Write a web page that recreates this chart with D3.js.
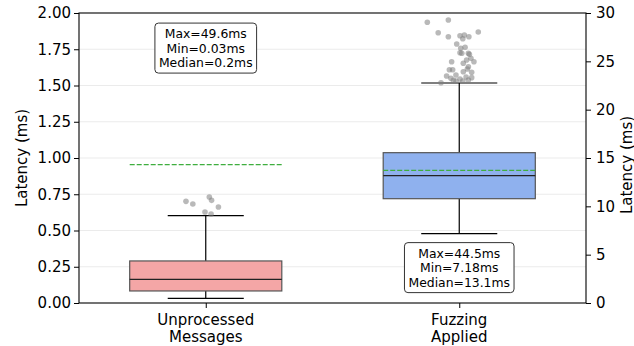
<!DOCTYPE html>
<html>
<head>
<meta charset="utf-8">
<script src="https://cdn.jsdelivr.net/npm/d3@7"></script>
<style>
  html, body { margin: 0; padding: 0; background: #fff; }
  svg { display: block; font-family: "DejaVu Sans", sans-serif; }
</style>
</head>
<body>
<div id="chart"></div>
<script>
// categories, one box per category; box 0 reads the left axis, box 1 the right axis
const categories = [["Unprocessed", "Messages"], ["Fuzzing", "Applied"]]
const whiskLo = [0.032, 7.17]
const q1 = [0.083, 10.79]
const medians = [0.163, 13.17]
const q3 = [0.29, 15.55]
const whiskHi = [0.602, 22.76]
const means = [0.954, 13.72]

// outliers: value and horizontal jitter (in category units)
const leftOutliers = [0.701, 0.683, 0.731, 0.708, 0.662, 0.628, 0.614]
const leftJitter = [-0.078, -0.051, 0.014, 0.023, 0.05, -0.003, 0.021]
const rightOutliers = [29.04, 29.28, 27.96, 27.55, 28.03, 27.65, 27.72, 27.55, 27.34, 26.79,
    26.35, 26.45, 25.89, 25.83, 25.83, 25.73, 25.31, 25.14, 24.96, 24.96,
    24.80, 24.44, 24.21, 24.13, 24.13, 23.93, 23.87, 23.59, 23.48, 23.38,
    23.31, 23.24, 23.17, 22.79, 23.04, 22.97, 22.97, 23.07]
const rightJitter = [-0.126, -0.043, -0.083, -0.043, 0.075, 0.003, 0.020, 0.038, 0.014, -0.010,
    0.006, 0.023, 0.003, 0.036, 0.010, 0.040, 0.046, 0.029, 0.058, -0.030,
    0.016, 0.036, 0.032, -0.039, -0.026, 0.016, 0.049, -0.013, -0.050, 0.027,
    0.049, -0.033, 0.003, -0.072, -0.023, 0.014, -0.013, 0.036]

const annotations = [
    ["Max=49.6ms", "Min=0.03ms", "Median=0.2ms"],
    ["Max=44.5ms", "Min=7.18ms", "Median=13.1ms"]
]
const leftTicks = [0, 0.25, 0.5, 0.75, 1.0, 1.25, 1.5, 1.75, 2.0]
const rightTicks = [0, 5, 10, 15, 20, 25, 30]

const fills = ["#f4a6a6", "#8fb1ee"]

const width = 634, height = 346
const margin = { left: 79, right: 48, top: 13, bottom: 43 }
const x0 = margin.left, x1 = width - margin.right
const y0 = height - margin.bottom, y1 = margin.top

const svg = d3.select("#chart").append("svg")
    .attr("width", width)
    .attr("height", height)

const x = d3.scaleLinear().domain([0.5, 2.5]).range([x0, x1])
const yL = d3.scaleLinear().domain([0, 2]).range([y0, y1])
const yR = d3.scaleLinear().domain([0, 30]).range([y0, y1])
const yOf = i => i === 0 ? yL : yR

// grid
svg.append("g")
    .selectAll("line")
    .data(leftTicks.slice(1, -1))
    .join("line")
    .attr("x1", x0).attr("x2", x1)
    .attr("y1", d => yL(d)).attr("y2", d => yL(d))
    .attr("stroke", "#ebebeb")
    .attr("stroke-width", 1)

const boxW = 0.6, capW = 0.3
const boxes = svg.append("g")
categories.forEach((c, i) => {
    const y = yOf(i)
    const cx = x(i + 1)
    const g = boxes.append("g")
    // whiskers
    g.append("line").attr("x1", cx).attr("x2", cx).attr("y1", y(whiskLo[i])).attr("y2", y(q1[i]))
        .attr("stroke", "#000").attr("stroke-width", 1.2)
    g.append("line").attr("x1", cx).attr("x2", cx).attr("y1", y(q3[i])).attr("y2", y(whiskHi[i]))
        .attr("stroke", "#000").attr("stroke-width", 1.2)
    for (const v of [whiskLo[i], whiskHi[i]]) {
        g.append("line")
            .attr("x1", x(i + 1 - capW / 2)).attr("x2", x(i + 1 + capW / 2))
            .attr("y1", y(v)).attr("y2", y(v))
            .attr("stroke", "#000").attr("stroke-width", 1.2)
    }
    g.append("rect")
        .attr("x", x(i + 1 - boxW / 2))
        .attr("width", x(i + 1 + boxW / 2) - x(i + 1 - boxW / 2))
        .attr("y", y(q3[i]))
        .attr("height", y(q1[i]) - y(q3[i]))
        .attr("fill", fills[i])
        .attr("stroke", "#555")
        .attr("stroke-width", 1.2)
    g.append("line")
        .attr("x1", x(i + 1 - boxW / 2)).attr("x2", x(i + 1 + boxW / 2))
        .attr("y1", y(medians[i])).attr("y2", y(medians[i]))
        .attr("stroke", "#222").attr("stroke-width", 1.3)
    g.append("line")
        .attr("x1", x(i + 1 - boxW / 2)).attr("x2", x(i + 1 + boxW / 2))
        .attr("y1", y(means[i])).attr("y2", y(means[i]))
        .attr("stroke", "#3fae3f").attr("stroke-width", 1.2)
        .attr("stroke-dasharray", "5,2")
})

// outliers
const pts = leftOutliers.map((v, k) => ({ i: 0, v, j: leftJitter[k] }))
    .concat(rightOutliers.map((v, k) => ({ i: 1, v, j: rightJitter[k] })))
svg.append("g")
    .selectAll("circle")
    .data(pts)
    .join("circle")
    .attr("cx", d => x(d.i + 1 + d.j))
    .attr("cy", d => yOf(d.i)(d.v))
    .attr("r", 2.8)
    .attr("fill", "#7f7f7f")
    .attr("fill-opacity", 0.55)

// frame
svg.append("rect")
    .attr("x", x0).attr("y", y1)
    .attr("width", x1 - x0).attr("height", y0 - y1)
    .attr("fill", "none").attr("stroke", "#000").attr("stroke-width", 1.1)

// axes
const fs = 15
const axL = svg.append("g").attr("transform", `translate(${x0},0)`)
    .call(d3.axisLeft(yL).tickValues(leftTicks).tickFormat(d3.format(".2f")).tickSize(5).tickPadding(3))
const axR = svg.append("g").attr("transform", `translate(${x1},0)`)
    .call(d3.axisRight(yR).tickValues(rightTicks).tickFormat(d3.format("d")).tickSize(5).tickPadding(5))
const axB = svg.append("g").attr("transform", `translate(0,${y0})`)
    .call(d3.axisBottom(x).tickValues([1, 2]).tickFormat("").tickSize(5))
for (const ax of [axL, axR, axB]) {
    ax.select(".domain").remove()
    ax.selectAll(".tick line").attr("stroke", "#000").attr("stroke-width", 1)
    ax.selectAll("text").attr("font-size", fs).attr("fill", "#000").attr("font-family", "DejaVu Sans")
}

// category labels, two lines each
svg.append("g")
    .selectAll("text")
    .data(categories)
    .join("text")
    .attr("x", (d, i) => x(i + 1))
    .attr("y", 324.5)
    .attr("text-anchor", "middle")
    .attr("font-size", fs)
    .each(function (d) {
        d3.select(this).selectAll("tspan")
            .data(d)
            .join("tspan")
            .attr("x", d3.select(this).attr("x"))
            .attr("dy", (t, k) => k === 0 ? 0 : 17.3)
            .text(t => t)
    })

// axis titles
svg.append("text")
    .attr("transform", `translate(27,${(y0 + y1) / 2}) rotate(-90)`)
    .attr("text-anchor", "middle")
    .attr("font-size", fs)
    .text("Latency (ms)")
svg.append("text")
    .attr("transform", `translate(631.5,${(y0 + y1) / 2 + 7}) rotate(-90)`)
    .attr("text-anchor", "middle")
    .attr("font-size", fs)
    .text("Latency (ms)")

// stats boxes (axes-fraction centres)
const annY = [0.879, 0.122]
annotations.forEach((lines, i) => {
    const cx = x(i + 1)
    const cy = y0 - annY[i] * (y0 - y1)
    const g = svg.append("g")
    const rect = g.append("rect")
    const lh = 14.5
    const t = g.append("text")
        .attr("text-anchor", "middle")
        .attr("font-size", 12.4)
    t.selectAll("tspan")
        .data(lines)
        .join("tspan")
        .attr("x", cx)
        .attr("y", (d, k) => cy + (k - 1) * lh + 4.5)
        .text(d => d)
    const bb = t.node().getBBox()
    const pad = 4
    rect.attr("x", bb.x - pad).attr("y", cy - 25)
        .attr("width", bb.width + 2 * pad).attr("height", 50)
        .attr("rx", 3.5).attr("ry", 3.5)
        .attr("fill", "#fff").attr("stroke", "#333").attr("stroke-width", 1)
})
</script>
</body>
</html>
